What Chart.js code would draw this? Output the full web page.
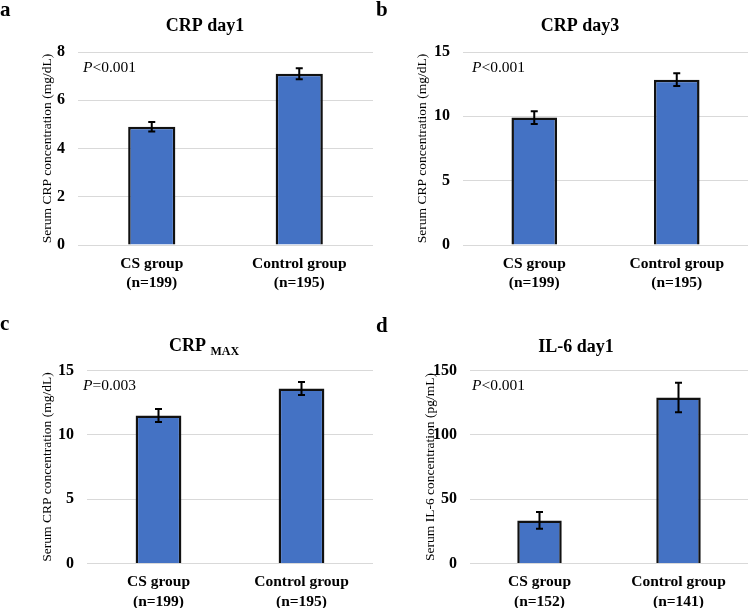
<!DOCTYPE html>
<html>
<head>
<meta charset="utf-8">
<script src="https://cdn.jsdelivr.net/npm/chart.js@4"></script>
<style>
  html, body { margin: 0; padding: 0; background: #fff; }
  #wrap { position: relative; width: 750px; height: 608px; }
  canvas { position: absolute; }
</style>
</head>
<body>
<div id="wrap">
  <canvas id="pa" width="375" height="304" style="left:0;top:0"></canvas>
  <canvas id="pb" width="375" height="304" style="left:375px;top:0"></canvas>
  <canvas id="pc" width="375" height="304" style="left:0;top:304px"></canvas>
  <canvas id="pd" width="375" height="304" style="left:375px;top:304px"></canvas>
</div>
<script>
// ---------- DATA ----------
const groupNames = ['CS group', 'Control group'];
const nCrp = ['(n=199)', '(n=195)'];
const nIl6 = ['(n=152)', '(n=141)'];

const crpDay1Means = [4.9, 7.1];
const crpDay1Errors = [0.2, 0.23];
const crpDay3Means = [9.9, 12.85];
const crpDay3Errors = [0.5, 0.5];
const crpMaxMeans = [11.5, 13.6];
const crpMaxErrors = [0.5, 0.5];
const il6Day1Means = [33.5, 129];
const il6Day1Errors = [6.5, 11.5];

const yMaxes = [8, 15, 15, 150];
const yStepSizes = [2, 5, 5, 50];
const panelLetters = ['a', 'b', 'c', 'd'];
const pValueTexts = ['<0.001', '<0.001', '=0.003', '<0.001'];
const yAxisTitles = [
  'Serum CRP concentration (mg/dL)',
  'Serum CRP concentration (mg/dL)',
  'Serum CRP concentration (mg/dL)',
  'Serum IL-6 concentration (pg/mL)'
];
const chartTitles = [
  [{ t: 'CRP day1' }],
  [{ t: 'CRP day3' }],
  [{ t: 'CRP ' }, { t: 'MAX', sub: true }],
  [{ t: 'IL-6 day1' }]
];

// ---------- STYLE / LAYOUT ----------
const FONT = "'Liberation Serif', 'Times New Roman', serif";
const BAR_COLOR = '#4472C4';

function labelsFor(ns) {
  return groupNames.map((g, i) => [g, ns[i]]);
}

const panels = [
  { id: 'pa', labels: labelsFor(nCrp), means: crpDay1Means, errs: crpDay1Errors,
    left: 78, top: 52, bottom: 245, yTitleX: 47, titleX: 205, titleY: 31,
    pX: 83, pY: 68, letterX: 0, letterY: 16 },
  { id: 'pb', labels: labelsFor(nCrp), means: crpDay3Means, errs: crpDay3Errors,
    left: 88, top: 52, bottom: 245, yTitleX: 47, titleX: 205, titleY: 31,
    pX: 97, pY: 68, letterX: 1, letterY: 16 },
  { id: 'pc', labels: labelsFor(nCrp), means: crpMaxMeans, errs: crpMaxErrors,
    left: 87, top: 66.5, bottom: 259.5, yTitleX: 47, titleX: 204, titleY: 47,
    pX: 83, pY: 82, letterX: 0, letterY: 26 },
  { id: 'pd', labels: labelsFor(nIl6), means: il6Day1Means, errs: il6Day1Errors,
    left: 95, top: 66.5, bottom: 259.5, yTitleX: 55, titleX: 201, titleY: 48,
    pX: 97, pY: 82, letterX: 1, letterY: 28 }
];

const decorPlugin = {
  id: 'decor',
  afterDatasetsDraw(chart, args, opts) {
    const ctx = chart.ctx;
    const p = opts.panel;
    const yScale = chart.scales.y;
    const meta = chart.getDatasetMeta(0);
    ctx.save();
    ctx.strokeStyle = '#000';
    ctx.lineWidth = 2;
    meta.data.forEach((el, i) => {
      const m = p.means[i], e = p.errs[i];
      const yTop = yScale.getPixelForValue(m + e);
      const yBot = yScale.getPixelForValue(m - e);
      const x = el.x;
      ctx.beginPath();
      ctx.moveTo(x, yTop); ctx.lineTo(x, yBot);
      ctx.moveTo(x - 3.5, yTop); ctx.lineTo(x + 3.5, yTop);
      ctx.moveTo(x - 3.5, yBot); ctx.lineTo(x + 3.5, yBot);
      ctx.stroke();
    });
    ctx.restore();
  },
  afterDraw(chart, args, opts) {
    const ctx = chart.ctx;
    const p = opts.panel;
    const idx = opts.index;
    ctx.save();
    ctx.fillStyle = '#000';
    // panel letter
    ctx.font = 'bold 21px ' + FONT;
    ctx.textAlign = 'left';
    ctx.textBaseline = 'alphabetic';
    ctx.fillText(panelLetters[idx], p.letterX, p.letterY);
    // title
    const parts = chartTitles[idx];
    let total = 0;
    const widths = parts.map(part => {
      ctx.font = 'bold ' + (part.sub ? 12 : 18) + 'px ' + FONT;
      const w = ctx.measureText(part.t).width;
      total += w;
      return w;
    });
    let x = p.titleX - total / 2;
    parts.forEach((part, i) => {
      ctx.font = 'bold ' + (part.sub ? 12 : 18) + 'px ' + FONT;
      ctx.fillText(part.t, x, p.titleY + (part.sub ? 4 : 0));
      x += widths[i];
    });
    // p-value
    ctx.textBaseline = 'middle';
    ctx.font = 'italic 15.5px ' + FONT;
    ctx.fillText('P', p.pX, p.pY);
    const pw = ctx.measureText('P').width;
    ctx.font = '15.5px ' + FONT;
    ctx.fillText(pValueTexts[idx], p.pX + pw, p.pY);
    ctx.restore();
  }
};

panels.forEach((p, idx) => {
  const H = 304;
  new Chart(document.getElementById(p.id), {
    type: 'bar',
    data: {
      labels: p.labels,
      datasets: [{
        data: p.means,
        backgroundColor: BAR_COLOR,
        borderColor: '#111',
        borderWidth: 2.5,
        borderSkipped: 'bottom',
        barPercentage: 0.32,
        categoryPercentage: 1.0
      }]
    },
    options: {
      responsive: false,
      animation: false,
      events: [],
      layout: { padding: { left: 0, right: 2, top: p.top, bottom: 0 } },
      plugins: {
        legend: { display: false },
        title: { display: false },
        tooltip: { enabled: false },
        decor: { panel: p, index: idx }
      },
      scales: {
        x: {
          offset: true,
          grid: { display: false },
          border: { display: false },
          ticks: {
            color: '#000',
            font: { family: FONT, size: 15.5, weight: 'bold', lineHeight: 1.25 },
            padding: 1,
            maxRotation: 0,
            autoSkip: false
          },
          afterFit(scale) { scale.height = H - p.bottom; }
        },
        y: {
          min: 0,
          max: yMaxes[idx],
          grid: { color: '#d9d9d9', lineWidth: 1, drawTicks: false },
          border: { display: false },
          ticks: {
            stepSize: yStepSizes[idx],
            color: '#000',
            font: { family: FONT, size: 16, weight: 'bold' },
            padding: 13
          },
          title: {
            display: true,
            text: yAxisTitles[idx],
            color: '#000',
            font: { family: FONT, size: 13.5 },
            padding: { top: p.yTitleX - 8.1, bottom: 0 }
          },
          afterFit(scale) { scale.width = p.left; }
        }
      }
    },
    plugins: [decorPlugin]
  });
});
</script>
</body>
</html>
